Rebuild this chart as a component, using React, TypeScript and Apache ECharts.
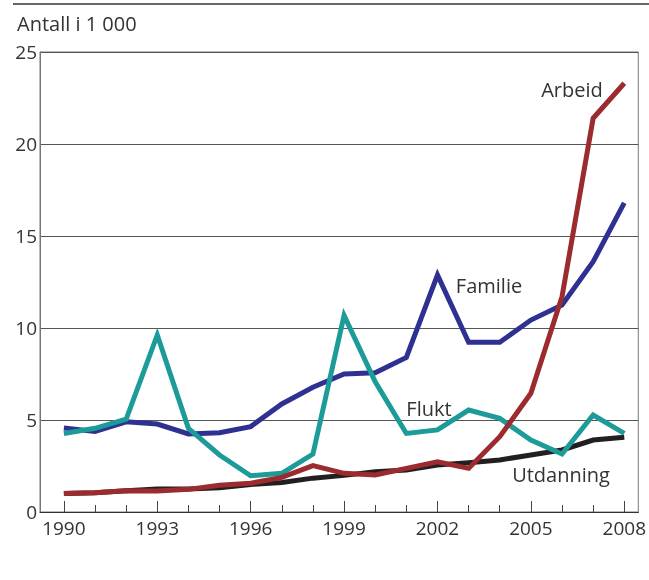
import React, { useEffect, useRef } from "react";
import * as echarts from "echarts";

const years = [1990, 1991, 1992, 1993, 1994, 1995, 1996, 1997, 1998, 1999, 2000, 2001, 2002, 2003, 2004, 2005, 2006, 2007, 2008];
const labelYears = [1990, 1993, 1996, 1999, 2002, 2005, 2008];
const yTicks = [0, 5, 10, 15, 20, 25];

const arbeid = [1.0, 1.05, 1.16, 1.14, 1.23, 1.45, 1.56, 1.88, 2.52, 2.1, 2.01, 2.37, 2.73, 2.37, 4.09, 6.45, 11.7, 21.4, 23.3];
const familie = [4.57, 4.38, 4.9, 4.78, 4.24, 4.31, 4.64, 5.87, 6.78, 7.5, 7.57, 8.4, 12.88, 9.22, 9.22, 10.43, 11.25, 13.6, 16.8];
const flukt = [4.27, 4.55, 5.04, 9.62, 4.55, 3.1, 1.97, 2.1, 3.15, 10.68, 7.08, 4.27, 4.46, 5.54, 5.09, 3.91, 3.15, 5.27, 4.27];
const utdanning = [1.0, 1.05, 1.15, 1.25, 1.25, 1.32, 1.5, 1.6, 1.84, 1.99, 2.19, 2.28, 2.55, 2.68, 2.83, 3.1, 3.37, 3.91, 4.06];

const FONT = "'Open Sans', 'Noto Sans', sans-serif";
const TXT = "#333333";

function toPairs(vals: number[]) {
  return years.map((y, i) => [y, vals[i]]);
}

export default function App() {
  const ref = useRef<HTMLDivElement>(null);
  useEffect(() => {
    if (!ref.current) return;
    const chart = echarts.init(ref.current, null, { renderer: "svg" });
    const line = (name: string, vals: number[], color: string) => ({
      name,
      type: "line",
      data: toPairs(vals),
      showSymbol: false,
      symbol: "none",
      lineStyle: { color, width: 5, join: "miter" },
      itemStyle: { color },
      z: 3,
    });
    const label = (text: string, x: number, y: number) => ({
      type: "text",
      x,
      y,
      style: { text, fill: TXT, font: `20px ${FONT}`, textAlign: "center", textVerticalAlign: "middle" },
    });
    chart.setOption({
      animation: false,
      grid: {
        left: 40,
        right: 8,
        top: 52,
        bottom: 68,
        show: true,
        borderColor: "#777777",
        borderWidth: 1,
        backgroundColor: "transparent",
      },
      xAxis: [
        {
          type: "value",
          min: 1989.233,
          max: 2008.45,
          splitLine: { show: false },
          axisLine: { show: true, onZero: false, lineStyle: { color: "#333333", width: 1.2 } },
          axisTick: {
            show: true,
            inside: true,
            length: 11,
            customValues: labelYears,
            lineStyle: { color: "#444444", width: 1 },
          },
          axisLabel: {
            customValues: labelYears,
            color: TXT,
            fontFamily: FONT,
            fontSize: 19,
            margin: 6,
            formatter: (v: number) => String(Math.round(v)),
          },
        },
        {
          type: "value",
          min: 1989.233,
          max: 2008.45,
          position: "bottom",
          splitLine: { show: false },
          axisLine: { show: false },
          axisLabel: { show: false },
          axisTick: {
            show: true,
            inside: true,
            length: 7,
            customValues: years,
            lineStyle: { color: "#444444", width: 1 },
          },
        },
      ],
      yAxis: {
        type: "value",
        min: 0,
        max: 25,
        interval: 5,
        axisLine: { show: true, lineStyle: { color: "#777777", width: 1 } },
        axisTick: { show: false },
        splitLine: { show: true, lineStyle: { color: "#555555", width: 1 } },
        axisLabel: {
          color: TXT,
          fontFamily: FONT,
          fontSize: 19,
          margin: 3,
          customValues: yTicks,
        },
      },
      series: [
        line("Utdanning", utdanning, "#231f20"),
        line("Familie", familie, "#2e3192"),
        line("Flukt", flukt, "#1d9b99"),
        line("Arbeid", arbeid, "#9b2b2f"),
      ],
      graphic: [
        {
          type: "line",
          shape: { x1: 13, y1: 4, x2: 649, y2: 4 },
          style: { stroke: "#333333", lineWidth: 1.5 },
        },
        {
          type: "text",
          x: 17,
          y: 23,
          style: { text: "Antall i 1 000", fill: TXT, font: `20px ${FONT}`, textVerticalAlign: "middle" },
        },
        label("Arbeid", 572, 89),
        label("Familie", 489, 285),
        label("Flukt", 429, 408),
        label("Utdanning", 561, 474),
      ],
    });
    return () => chart.dispose();
  }, []);
  return <div ref={ref} style={{ position: "fixed", left: 0, top: 0, width: 649, height: 580 }} />;
}
